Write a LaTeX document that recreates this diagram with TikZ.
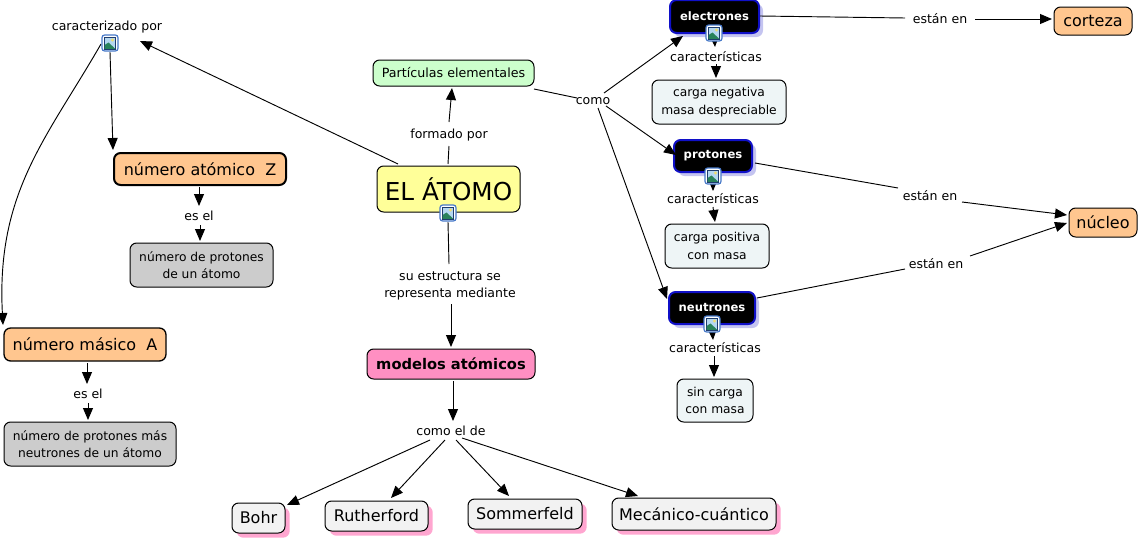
\documentclass[tikz,border=0pt]{standalone}
\usepackage{fontspec}
\setmainfont{DejaVu Sans}
\usetikzlibrary{arrows.meta,shadows}
\definecolor{peach}{HTML}{FFC68F}
\definecolor{pale}{HTML}{EEF5F6}
\definecolor{greyb}{HTML}{CCCCCC}
\definecolor{mint}{HTML}{CCFFCC}
\definecolor{lemon}{HTML}{FFFF99}
\definecolor{rose}{HTML}{FF8FC2}
\definecolor{shpink}{HTML}{FFA6D0}
\definecolor{shblue}{HTML}{C4C4F0}
\definecolor{concept}{HTML}{F2F2F2}
\definecolor{icbord}{HTML}{4678C8}
\definecolor{icsky}{HTML}{B4D7F0}
\definecolor{icdark}{HTML}{1E3C6E}
\definecolor{icsun}{HTML}{F0DC6E}
\definecolor{ichill}{HTML}{28825A}
\definecolor{darkbord}{HTML}{1010C8}
\tikzset{
  x=0.75pt,y=-0.75pt,
  box/.style={draw=black,line width=0.75pt,rounded corners=5pt,align=center,inner sep=0pt,font=\fontsize{9.2}{13}\selectfont},
  sz/.style 2 args={minimum width=#1*0.75pt,minimum height=#2*0.75pt},
  lab/.style={inner sep=0pt,align=center,font=\fontsize{9.4}{13}\selectfont},
  peachbox/.style={box,fill=peach,font=\fontsize{12}{14}\selectfont},
  greybox/.style={box,fill=greyb},
  palebox/.style={box,fill=pale},
  darkbox/.style={box,fill=black,text=white,draw=darkbord,line width=1.5pt,font=\fontsize{8.7}{13}\bfseries\selectfont,
     preaction={fill=shblue,rounded corners=5pt,transform canvas={xshift=3pt,yshift=-3pt}}},
  modelbox/.style={box,fill=concept,font=\fontsize{12}{14}\selectfont,
     preaction={fill=shpink,rounded corners=5pt,transform canvas={xshift=3.5pt,yshift=-3.5pt}}},
  link/.style={draw=black,line width=0.7pt,-{Triangle[length=9pt,width=7.5pt]}},
  seg/.style={draw=black,line width=0.7pt},
  pics/imgicon/.style={code={
    \fill[white,draw=icbord,line width=0.9pt,rounded corners=2pt] (-8,-8) rectangle (8,8);
    \fill[icsky,draw=icdark,line width=0.5pt] (-5.5,-6) rectangle (5.5,6);
    \fill[icsun] (2.5,-3) circle[radius=1.6];
    \fill[ichill] (-5.3,5.8) -- (-5.3,2) -- (-1.5,-0.5) -- (5.3,5.8) -- cycle;
  }}
}
\newcommand{\cn}[6]{\draw[link] ([shift={(#2,#3)}]#1.center) -- ([shift={(#5,#6)}]#4.center);}
\newcommand{\sg}[6]{\draw[seg] ([shift={(#2,#3)}]#1.center) -- ([shift={(#5,#6)}]#4.center);}
\begin{document}
\begin{tikzpicture}
\useasboundingbox (0,0) rectangle (1141,539);
% concepts
\node[box,fill=mint,sz={161}{26},font=\fontsize{9.5}{13}\selectfont] (part) at (453.5,73) {Partículas elementales};
\node[box,fill=lemon,sz={143}{46},font=\fontsize{18.5}{22}\selectfont] (atom) at (448.5,189) {EL ÁTOMO};
\node[darkbox,sz={89}{33}] (elec) at (714.5,16.5) {electrones};
\node[darkbox,sz={78}{32}] (prot) at (713,156) {protones};
\node[darkbox,sz={86}{32}] (neut) at (712,308) {neutrones};
\node[peachbox,sz={78}{28}] (cort) at (1093,21) {corteza};
\node[peachbox,sz={68}{29}] (nucl) at (1103,222.5) {núcleo};
\node[palebox,sz={134}{44}] (cneg) at (719,102) {carga negativa\\masa despreciable};
\node[palebox,sz={104}{44}] (cpos) at (717,246) {carga positiva\\con masa};
\node[palebox,sz={76}{43}] (sinc) at (715,400.5) {sin carga\\con masa};
\node[peachbox,line width=1.5pt,sz={172}{32}] (nz) at (200,169) {número atómico\ \ Z};
\node[greybox,sz={143}{44}] (npr) at (201.5,265) {número de protones\\de un átomo};
\node[peachbox,line width=1pt,sz={162}{33}] (nma) at (85,344.5) {número másico\ \ A};
\node[greybox,sz={172}{44}] (nmn) at (90,444) {número de protones más\\neutrones de un átomo};
\node[box,fill=rose,sz={168}{30},font=\fontsize{11}{14}\bfseries\selectfont] (mod) at (451,364) {modelos atómicos};
\node[modelbox,sz={53}{30}] (bohr) at (258.5,518) {Bohr};
\node[modelbox,sz={103}{30}] (ruth) at (376.5,516) {Rutherford};
\node[modelbox,sz={114}{30}] (somm) at (525,514) {Sommerfeld};
\node[modelbox,sz={164}{32}] (meca) at (694,514) {Mecánico-cuántico};
% linking phrases
\node[lab] (lcar) at (107,27) {caracterizado por};
\node[lab] (lfor) at (449,135) {formado por};
\node[lab] (lcom) at (593,101) {como};
\node[lab] (lest) at (450,286) {su estructura se\\representa mediante};
\node[lab] (lcde) at (451,431) {como el de};
\node[lab] (les1) at (199,216) {es el};
\node[lab] (les2) at (88,394) {es el};
\node[lab] (lc1) at (716,57) {características};
\node[lab] (lc2) at (713,199) {características};
\node[lab] (lc3) at (715,348) {características};
\node[lab] (le1) at (940,19) {están en};
\node[lab] (le2) at (930,196) {están en};
\node[lab] (le3) at (936,264) {están en};
% connectors
\cn{atom}{-50.5}{-25}{lcar}{33}{14}
\draw[link] ([shift={(-6,17)}]lcar.center) .. controls ([shift={(-60,111)}]lcar.center) and ([shift={(-111,165)}]lcar.center) .. ([shift={(-82,-19.5)}]nma.center);
\cn{lcar}{3}{25}{nz}{-87}{-19}
\cn{nz}{-1}{18}{les1}{0}{-10}
\cn{les1}{1}{9}{npr}{-1.5}{-24}
\sg{atom}{-0.5}{-25}{lfor}{0}{11}
\cn{lfor}{0}{-13}{part}{-1.5}{15}
\sg{atom}{-0.5}{33}{lest}{-1}{-22}
\cn{lest}{1}{18}{mod}{0}{-17}
\cn{mod}{2}{17}{lcde}{2}{-10}
\cn{lcde}{-21}{9}{bohr}{28.5}{-13}
\cn{lcde}{-6}{9}{ruth}{14.5}{-18}
\cn{lcde}{5}{9}{somm}{-16}{-18}
\cn{lcde}{11}{7}{meca}{-56}{-18}
\cn{nma}{2}{18.5}{les2}{-1}{-10}
\cn{les2}{0}{9}{nmn}{-2}{-24}
\sg{part}{80.5}{16}{lcom}{-16}{-3}
\cn{lcom}{11}{-8}{elec}{-31.5}{19.5}
\cn{lcom}{13}{5}{prot}{-37}{-1}
\cn{lcom}{5}{7}{neut}{-45}{-9}
\sg{elec}{45.5}{-0.5}{le1}{-35}{-1}
\cn{le1}{35}{0}{cort}{-41}{-2}
\sg{prot}{42}{7}{le2}{-32}{-8}
\cn{le2}{32}{6}{nucl}{-36}{-7.5}
\sg{neut}{45}{-10}{le3}{-31}{5}
\cn{le3}{34}{-8}{nucl}{-36}{0.5}
\cn{elec}{-0.5}{13.5}{lc1}{-1}{-10}
\cn{lc1}{0}{7}{cneg}{-3}{-24}
\cn{prot}{0}{19}{lc2}{0}{-8}
\cn{lc2}{0}{8}{cpos}{-2}{-24}
\cn{neut}{0}{17}{lc3}{-2}{-8}
\cn{lc3}{-1}{8}{sinc}{-1}{-23.5}
% icons
\pic at (110,43) {imgicon};
\pic at (448,213) {imgicon};
\pic at (714,33) {imgicon};
\pic at (713,176) {imgicon};
\pic at (712,324) {imgicon};
\end{tikzpicture}
\end{document}
